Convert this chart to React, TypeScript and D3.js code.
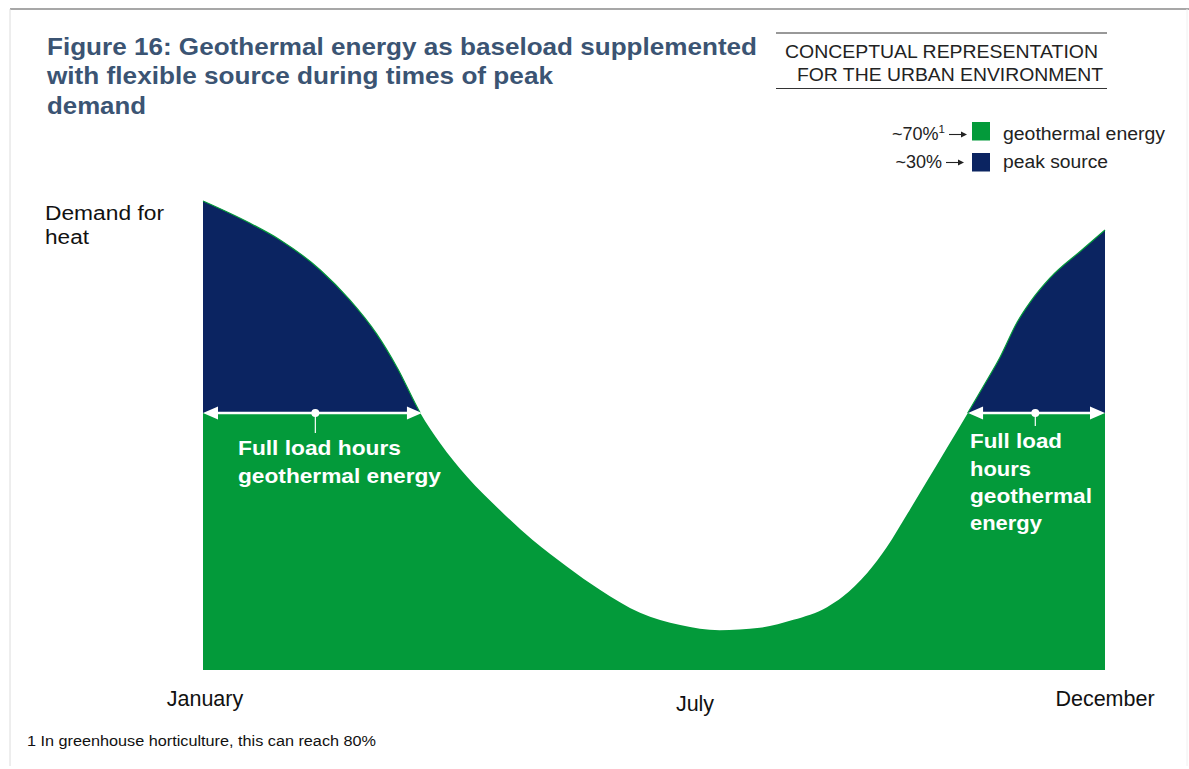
import React from "react";
import * as d3 from "d3";

// Demand curve (month index 0 = January, 11 = December; relative demand 0..100)
const months = [0, 0.57, 0.94, 1.43, 1.79, 2.12, 2.37, 2.65, 2.89, 3.22, 3.62, 4.02, 4.44, 4.84, 5.33, 5.82, 6.3, 6.79, 7.2, 7.61, 7.8, 8.1, 8.34, 8.59, 8.83, 9.07, 9.32, 9.51, 9.72, 9.93, 10.09, 10.33, 10.7, 11];
const demand = [100, 95.3, 91.7, 85.3, 78.9, 71.6, 64.4, 54.8, 48.4, 41.2, 34.1, 27.7, 22.0, 17.1, 12.2, 9.6, 8.5, 9.0, 10.7, 13.4, 15.6, 20.7, 26.2, 33.3, 40.3, 47.3, 54.6, 60.3, 66.7, 74.2, 78.5, 83.6, 89.3, 93.8];
const baseload = 54.8;
const monthTicks = [
  { label: "January", m: 0 },
  { label: "July", m: 6 },
  { label: "December", m: 11 },
];
// Full-load-hours spans (months)
const spans = [
  { from: 0, to: 2.67, mid: 1.37 },
  { from: 9.33, to: 11, mid: 10.15 },
];
const legendItems = [
  { pct: "~70%", sup: "1", label: "geothermal energy", key: "geo" },
  { pct: "~30%", sup: "", label: "peak source", key: "peak" },
];

const GREEN = "#039a3a";
const NAVY = "#0b2461";
const TITLE = "#3b5473";
const FONT = "'Liberation Sans', Arial, Helvetica, sans-serif";

export default function App() {
  const W = 1189;
  const H = 769;
  const x = d3.scaleLinear().domain([0, 11]).range([203, 1105]);
  const y = d3.scaleLinear().domain([0, 100]).range([670, 201]);
  const pts = months.map((m, i) => ({ m, v: demand[i] }));
  const area = d3
    .area<{ m: number; v: number }>()
    .x((d) => x(d.m))
    .y0(y(0))
    .y1((d) => y(d.v))
    .curve(d3.curveMonotoneX);
  const line = d3
    .line<{ m: number; v: number }>()
    .x((d) => x(d.m))
    .y((d) => y(d.v))
    .curve(d3.curveMonotoneX);
  const yb = y(baseload);
  const areaD = area(pts) || "";

  const arrowHead = (tipX: number, dir: number, yy: number, len = 15, hw = 6.5) =>
    `M${tipX},${yy} L${tipX + dir * len},${yy - hw} L${tipX + dir * len},${yy + hw} Z`;

  return (
    <svg
      width={W}
      height={H}
      style={{ position: "absolute", left: 0, top: 0, background: "#fff" }}
      fontFamily={FONT}
    >
      <defs>
        <clipPath id="above">
          <rect x={0} y={0} width={W} height={yb} />
        </clipPath>
        <clipPath id="below">
          <rect x={0} y={yb} width={W} height={H - yb} />
        </clipPath>
      </defs>
      {/* frame */}
      <line x1={10} y1={9} x2={1189} y2={9} stroke="#8a8a8a" strokeWidth={1.5} />
      <line x1={10} y1={9} x2={10} y2={766} stroke="#dcdcdc" strokeWidth={1} />
      <line x1={1187} y1={9} x2={1187} y2={766} stroke="#f0f0f0" strokeWidth={1} />

      {/* title */}
      <g fill={TITLE} fontWeight="bold" fontSize={24}>
        <text x={47} y={55} textLength={710} lengthAdjust="spacingAndGlyphs">
          Figure 16: Geothermal energy as baseload supplemented
        </text>
        <text x={47} y={84} textLength={506} lengthAdjust="spacingAndGlyphs">
          with flexible source during times of peak
        </text>
        <text x={47} y={114} textLength={99} lengthAdjust="spacingAndGlyphs">
          demand
        </text>
      </g>

      {/* subtitle box */}
      <line x1={776} y1={33} x2={1107} y2={33} stroke="#333" strokeWidth={1} />
      <line x1={776} y1={88.5} x2={1107} y2={88.5} stroke="#333" strokeWidth={1} />
      <g fill="#222" fontSize={18}>
        <text x={785} y={58} textLength={313} lengthAdjust="spacingAndGlyphs">
          CONCEPTUAL REPRESENTATION
        </text>
        <text x={797} y={80.5} textLength={306} lengthAdjust="spacingAndGlyphs">
          FOR THE URBAN ENVIRONMENT
        </text>
      </g>

      {/* legend */}
      {legendItems.map((it, i) => {
        const base = i === 0 ? 140 : 168;
        const sqTop = i === 0 ? 122 : 153;
        const ay = base - 5.5;
        const tip = it.sup ? 967 : 964;
        return (
          <g key={it.key} fontSize={18} fill="#222">
            <text x={tip - 22} y={base} textAnchor="end">
              {it.pct}
              {it.sup ? (
                <tspan fontSize={11.5} dy={-7}>
                  {it.sup}
                </tspan>
              ) : null}
            </text>
            <line x1={tip - 18} y1={ay} x2={tip - 4} y2={ay} stroke="#222" strokeWidth={1.1} />
            <path d={arrowHead(tip, -1, ay, 6, 3)} fill="#222" />
            <rect x={972} y={sqTop} width={18} height={18.5} fill={i === 0 ? GREEN : NAVY} />
            <text
              x={1003}
              y={base}
              textLength={i === 0 ? 162 : 105}
              lengthAdjust="spacingAndGlyphs"
            >
              {it.label}
            </text>
          </g>
        );
      })}

      {/* y-axis caption */}
      <g fill="#111" fontSize={20}>
        <text x={45} y={220} textLength={119} lengthAdjust="spacingAndGlyphs">
          Demand for
        </text>
        <text x={45} y={244} textLength={44} lengthAdjust="spacingAndGlyphs">
          heat
        </text>
      </g>

      {/* areas */}
      <path d={areaD} fill={GREEN} clipPath="url(#below)" />
      <path d={areaD} fill={NAVY} clipPath="url(#above)" />
      <path d={line(pts) || ""} fill="none" stroke={GREEN} strokeWidth={1.2} clipPath="url(#above)" />

      {/* full load arrows */}
      {spans.map((s, i) => {
        const x0 = x(s.from);
        const x1 = x(s.to);
        const xm = x(s.mid);
        return (
          <g key={i}>
            <line x1={x0 + 10} y1={yb} x2={x1 - 10} y2={yb} stroke="#fff" strokeWidth={2.5} />
            <path d={arrowHead(x0, 1, yb)} fill="#fff" />
            <path d={arrowHead(x1, -1, yb)} fill="#fff" />
            <line x1={xm} y1={yb} x2={xm} y2={i === 0 ? 433 : 426} stroke="#fff" strokeWidth={1.2} />
            <circle cx={xm} cy={yb} r={4} fill="#fff" />
          </g>
        );
      })}

      {/* white labels */}
      <g fill="#fff" fontWeight="bold" fontSize={21}>
        <text x={238} y={455} textLength={163} lengthAdjust="spacingAndGlyphs">
          Full load hours
        </text>
        <text x={238} y={483} textLength={203} lengthAdjust="spacingAndGlyphs">
          geothermal energy
        </text>
        <text x={970} y={448} textLength={92} lengthAdjust="spacingAndGlyphs">
          Full load
        </text>
        <text x={970} y={476} textLength={61} lengthAdjust="spacingAndGlyphs">
          hours
        </text>
        <text x={970} y={503} textLength={122} lengthAdjust="spacingAndGlyphs">
          geothermal
        </text>
        <text x={970} y={530} textLength={72} lengthAdjust="spacingAndGlyphs">
          energy
        </text>
      </g>

      {/* month labels */}
      <g fill="#111" fontSize={21.5} textAnchor="middle">
        {monthTicks.map((t) => (
          <text key={t.label} x={x(t.m) + (t.m === 0 ? 2 : 0)} y={t.m === 6 ? 711 : 706}>
            {t.label}
          </text>
        ))}
      </g>

      {/* footnote */}
      <text x={27} y={746} fontSize={14} fill="#111" textLength={349} lengthAdjust="spacingAndGlyphs">
        1 In greenhouse horticulture, this can reach 80%
      </text>
    </svg>
  );
}
